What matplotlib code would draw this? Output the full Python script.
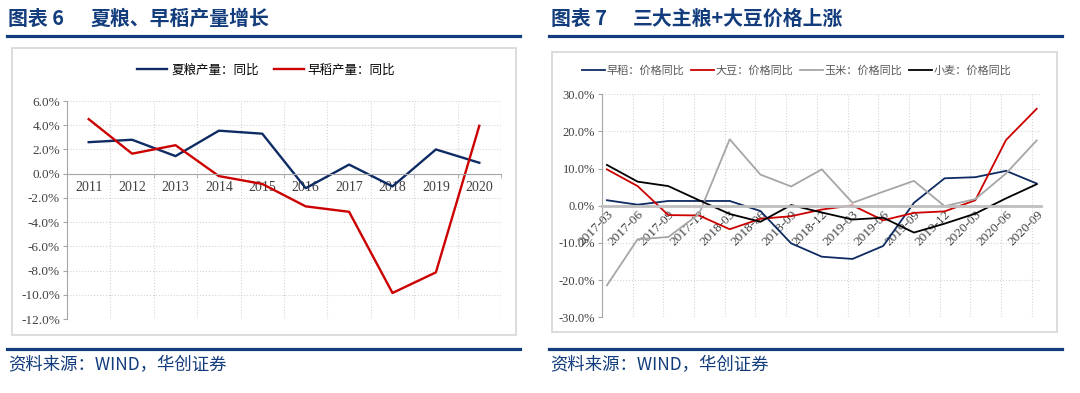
import numpy as np
import matplotlib
matplotlib.use("Agg")
from matplotlib import pyplot as plt
from matplotlib.lines import Line2D
from matplotlib.patches import Rectangle

plt.rcParams['font.family'] = ['Noto Sans CJK SC', 'DejaVu Sans']
plt.rcParams['axes.unicode_minus'] = False

# left chart: summer grain / early rice output growth (%)
years = ['2011', '2012', '2013', '2014', '2015', '2016', '2017', '2018', '2019', '2020']
summer_grain = [2.6, 2.8, 1.45, 3.55, 3.3, -1.2, 0.75, -1.05, 2.0, 0.9]
early_rice = [4.5, 1.65, 2.35, -0.2, -0.85, -2.7, -3.15, -9.85, -8.15, 3.95]
left_names = ['夏粮产量：同比', '早稻产量：同比']

# right chart: price yoy (%)
quarters = ['2017-03', '2017-06', '2017-09', '2017-12', '2018-03', '2018-06', '2018-09',
            '2018-12', '2019-03', '2019-06', '2019-09', '2019-12', '2020-03', '2020-06', '2020-09']
rice_price = [1.5, 0.3, 1.3, 1.3, 1.3, -1.4, -10.1, -13.7, -14.3, -10.8, 0.8, 7.4, 7.7, 9.4, 6.0]
soy_price = [9.8, 5.3, -2.5, -2.6, -6.3, -3.5, -2.8, -1.0, 0.1, -3.9, -1.9, -1.5, 1.5, 17.7, 26.1]
corn_price = [-21.4, -9.0, -8.4, -2.2, 17.9, 8.4, 5.2, 9.8, 0.8, 3.8, 6.7, -0.1, 1.8, 8.7, 17.6]
wheat_price = [11.0, 6.5, 5.3, 1.5, -2.2, -4.3, 0.2, -1.8, -3.7, -3.2, -7.2, -4.8, -2.1, 2.0, 5.8]
right_names = ['早稻：价格同比', '大豆：价格同比', '玉米：价格同比', '小麦：价格同比']

navy = '#0e2b63'
red = '#cc0000'
head = '#123c7c'
grid_c = '#d4d4d4'
serif = 'Liberation Serif'

fig = plt.figure(figsize=(10.8, 3.93), dpi=100)
W, H = 1080, 393

def fx(x):
    return x / W

def fy(y):
    return 1 - y / H

# titles, rules, boxes, footers
for x0, x_rest, num, rest in [(8, 90, '图表 6', '夏粮、早稻产量增长'),
                              (551, 633, '图表 7', '三大主粮+大豆价格上涨')]:
    fig.text(fx(x0), fy(18), num, fontsize=14.3, fontweight='bold', color=head,
             va='center', ha='left')
    fig.text(fx(x_rest), fy(18), rest, fontsize=14.3, fontweight='bold', color=head,
             va='center', ha='left')
for x0, x1 in [(7, 520), (549, 1062)]:
    for y in [35.7, 349]:
        fig.add_artist(Line2D([fx(x0), fx(x1)], [fy(y), fy(y)], color=head, lw=2.3))
for x0, y0, x1, y1 in [(12, 48, 516, 335), (552, 52, 1057, 332)]:
    fig.add_artist(Rectangle((fx(x0), fy(y1)), fx(x1 - x0), y1 / H - y0 / H,
                             fill=False, edgecolor='#d9d9d9', lw=1.3))
for x0 in [8, 550]:
    fig.text(fx(x0), fy(365), '资料来源：WIND，华创证券', fontsize=12.5, color=head,
             va='center', ha='left')

# ---------------- left chart ----------------
ax1 = fig.add_axes([fx(67), fy(319), fx(501 - 67), (319 - 101) / H])
ax1.spines['bottom'].set_position(('data', 0))
x1 = np.arange(len(years))
ax1.plot(x1, summer_grain, color=navy, lw=1.7, label=left_names[0])
ax1.plot(x1, early_rice, color=red, lw=1.7, label=left_names[1])
ax1.set_xlim(-0.5, len(years) - 0.5)
ax1.set_ylim(-12, 6)
yt = np.arange(-12, 7, 2)
ax1.set_yticks(yt)
ax1.set_yticklabels(['%.1f%%' % v for v in yt], family=serif, fontsize=9.5, color='#404040')
ax1.set_xticks(x1)
ax1.set_xticklabels(years, family=serif, fontsize=10, color='#404040')
ax1.set_xticks(np.arange(-0.5, len(years), 1), minor=True)
for s in ['top', 'right']:
    ax1.spines[s].set_visible(False)
ax1.spines['bottom'].set_color('#a6a6a6')
ax1.spines['left'].set_color('#a6a6a6')
ax1.tick_params(axis='x', which='major', length=0, pad=5)
ax1.tick_params(axis='x', which='minor', length=3, color='#a6a6a6')
ax1.tick_params(axis='y', length=3, color='#a6a6a6', pad=2)
ax1.grid(True, axis='y', which='major', color=grid_c, ls=':', lw=0.8)
ax1.grid(True, axis='x', which='minor', color=grid_c, ls=':', lw=0.8)
ax1.axvline(len(years) - 0.5, color=grid_c, ls=':', lw=0.8)
ax1.set_axisbelow(True)
ax1.legend(loc='center', bbox_to_anchor=(fx(266), fy(70)), bbox_transform=fig.transFigure,
           ncol=2, frameon=False, fontsize=9, handlelength=2.4, columnspacing=1.2,
           handletextpad=0.3)

# ---------------- right chart ----------------
ax2 = fig.add_axes([fx(602), fy(317.3), fx(1041 - 602), (317.3 - 94.3) / H])
ax2.spines['bottom'].set_position(('data', 0))
x2 = np.arange(len(quarters))
ax2.plot(x2, rice_price, color=navy, lw=1.3, label=right_names[0])
ax2.plot(x2, soy_price, color=red, lw=1.3, label=right_names[1])
ax2.plot(x2, corn_price, color='#a6a6a6', lw=1.3, label=right_names[2])
ax2.plot(x2, wheat_price, color='black', lw=1.3, label=right_names[3])
ax2.set_xlim(-0.16, len(quarters) - 1 + 0.14)
ax2.set_ylim(-30, 30)
yt2 = np.arange(-30, 31, 10)
ax2.set_yticks(yt2)
ax2.set_yticklabels(['%.1f%%' % v for v in yt2], family=serif, fontsize=9, color='#404040')
ax2.set_xticks(x2)
ax2.set_xticklabels(quarters, family=serif, fontsize=9.5, color='#404040',
                    rotation=45, ha='right', va='top', rotation_mode='anchor')
ax2.set_xticks(np.arange(len(quarters)) - 0.16, minor=True)
for s in ['top', 'right']:
    ax2.spines[s].set_visible(False)
ax2.spines['bottom'].set_color('#bfbfbf')
ax2.spines['bottom'].set_linewidth(2)
ax2.spines['left'].set_color('#a6a6a6')
ax2.tick_params(axis='x', which='both', length=0, pad=2)
ax2.tick_params(axis='y', length=3, color='#a6a6a6', pad=2)
ax2.grid(True, axis='y', which='major', color=grid_c, ls=':', lw=0.8)
ax2.grid(True, axis='x', which='minor', color=grid_c, ls=':', lw=0.8)
ax2.axvline(len(quarters) - 1 + 0.14, color=grid_c, ls=':', lw=0.8)
ax2.set_axisbelow(True)
leg = ax2.legend(loc='center', bbox_to_anchor=(fx(797), fy(71)), bbox_transform=fig.transFigure,
                 ncol=4, frameon=False, fontsize=8, handlelength=2.0, columnspacing=0.6,
                 handletextpad=0.2)
for t in leg.get_texts():
    t.set_color('#595959')

fig.savefig('out.png', dpi=100)
